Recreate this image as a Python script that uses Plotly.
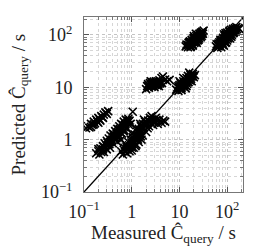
import plotly.graph_objects as go

# Cluster data (measured, predicted) in seconds
clA_x = [58,62,65,70,72,75,78,80,82,85,88,90,92,95,98,100,105,108,110,112,115,118,120,125,128,132,135,140,145,150,155,160,170,178,68,75,85,95,102,112,122,138,60,66,105,92,
         64,70,76,83,88,96,100,108,115,126,133,145,80,90,100,118,130,150,72,86]
clA_y = [60,56,68,62,75,70,80,65,88,75,95,82,70,100,88,78,105,92,115,98,85,110,125,100,118,130,108,125,135,115,140,128,135,130,72,58,62,72,95,120,92,112,66,60,85,108,
         64,66,72,84,78,92,86,100,104,112,120,126,70,88,110,95,118,125,80,102]

clB_x = [13.5,14,15,15.5,16,16.5,17,17.5,18,18.5,19,19.5,20,20.5,21,21.5,22,22.5,23,24,24,25,26,26,27,28,29,30,31,32,17,19,23,25,28,20,22,16,
         15,17,18,19,21,22,24,26,27,29,30,20,23]
clB_y = [60,65,58,70,62,75,68,60,80,72,65,85,78,70,90,82,75,95,86,100,78,92,105,85,98,110,95,115,105,120,58,62,70,80,90,95,105,72,
         64,72,66,76,74,86,88,96,104,102,110,88,80]

clC_x = [8.5,9,9.5,10,10,10.5,11,11,11.5,12,12,12.5,13,13,13.5,14,14,14.5,15,15,15.5,16,16.5,17,17.5,18,19,20,21,12,10,16,18,
         9.5,11,12.5,13.5,15,16,17,19,11,14]
clC_y = [9,10,8.5,11,9.5,12,10,8.8,11.5,13,10.5,12,14,11,9.5,13,15,11.5,14,16.5,12.5,15,13.5,17,14.5,16,18,15.5,17,15,13,19,13,
         10.5,11,11,12.5,12.5,14,15.5,16.5,9.5,10.5]

clD_x = [2.0,2.1,2.2,2.3,2.4,2.5,2.6,2.7,2.8,2.9,3.0,3.1,3.2,3.3,3.4,3.5,3.6,3.8,4.0,4.2,4.5,4.3,5.0,5.5,6.2,2.5,3.0,3.7,
         2.2,2.6,3.3,3.9,2.9]
clD_y = [9.2,10.5,11.5,9.8,12,11,10.2,12.5,11.2,10.5,12,11,13,11.8,10.8,12.2,11.5,13.5,12.5,15,16,12,14,13,13.8,13,10,10.5,
         10.8,11.8,12.4,11.8,12.8]

clE_x = [0.11,0.12,0.13,0.14,0.15,0.16,0.17,0.18,0.19,0.2,0.21,0.22,0.23,0.25,0.26,0.28,0.3,0.32,0.14,0.2,0.16,0.24]
clE_y = [1.65,1.8,1.7,2.0,1.9,2.2,2.05,2.4,2.2,2.6,2.45,2.3,2.8,2.6,3.0,3.3,3.1,3.5,1.75,2.1,1.95,2.7]

clF_x = [0.18,0.2,0.21,0.22,0.24,0.25,0.26,0.27,0.28,0.3,0.3,0.32,0.33,0.35,0.36,0.38,0.4,0.4,0.42,0.45,0.45,0.48,0.5,0.5,0.52,0.55,0.55,0.58,0.6,0.62,0.65,0.68,0.7,0.72,0.75,0.78,0.8,0.85,0.88,0.9,0.95,0.35,0.25,0.6,0.5,
         0.2,0.23,0.26,0.29,0.31,0.34,0.37,0.39,0.43,0.46,0.5,0.53,0.57,0.63,0.66,0.7,0.74,0.82,0.86,0.44,0.56,0.67]
clF_y = [0.55,0.6,0.52,0.68,0.62,0.75,0.58,0.85,0.7,0.95,0.65,0.8,1.05,0.9,1.2,1.0,1.3,0.85,1.15,1.45,1.0,1.3,1.6,1.1,1.4,1.8,1.2,1.55,2.0,1.3,1.7,2.2,1.5,1.9,2.4,1.7,2.1,2.5,1.9,2.3,2.0,0.7,0.65,1.0,0.9,
         0.66,0.58,0.72,0.78,0.88,0.82,0.95,1.12,1.25,1.2,1.35,1.5,1.4,1.6,1.9,1.75,2.0,2.3,2.2,1.1,1.6,1.45]

clG_x = [0.6,0.65,0.7,0.72,0.75,0.8,0.8,0.85,0.9,0.9,0.95,1.0,1.0,1.05,1.1,1.1,1.15,1.2,1.25,1.3,1.35,1.4,1.4,1.5,1.55,1.6,1.7,1.7,1.8,1.9,2.0,2.0,2.2,2.3,2.4,2.5,2.7,2.8,3.0,3.2,3.5,3.8,4.2,4.6,5.0,1.25,1.5,1.8,2.6,1.0,0.95,1.2,1.6,1.05,
         0.68,0.78,0.88,0.98,1.08,1.18,1.3,1.45,1.65,1.85,2.1,2.35,2.9,3.3,0.82,1.02,1.15,1.35,1.55,2.15]
clG_y = [0.6,0.52,0.7,0.58,0.8,0.65,0.55,0.9,0.72,0.6,1.0,0.8,0.62,1.1,0.9,0.7,1.25,1.0,0.8,1.4,1.1,1.6,0.9,1.3,1.8,1.5,2.0,1.2,1.7,2.2,1.9,1.4,2.3,1.8,2.6,2.1,2.4,1.9,2.2,2.6,2.0,2.4,2.1,2.3,2.2,1.6,2.0,2.4,2.8,1.3,0.75,0.75,1.0,3.4,
         0.64,0.72,0.78,0.88,0.98,1.12,1.2,1.5,1.7,1.95,2.05,2.2,2.1,2.35,0.68,0.7,0.85,1.0,1.15,1.65]

measured = clA_x + clB_x + clC_x + clD_x + clE_x + clF_x + clG_x
predicted = clA_y + clB_y + clC_y + clD_y + clE_y + clF_y + clG_y

tick_vals = [0.1, 1, 10, 100]
tick_text = ["10<sup>\u22121</sup>", "1", "10", "10<sup>2</sup>"]
x_title = "Measured \u0108<sub>query</sub> / s"
y_title = "Predicted \u0108<sub>query</sub> / s"
xr = [-1, 2.33]
yr = [-1, 2.34]

minor_vals = [m * 10.0**k for k in range(-1, 3) for m in range(2, 10)]

fig = go.Figure()
diag = [10**min(xr[0], yr[0]), 10**max(xr[1], yr[1])]
fig.add_trace(go.Scatter(x=diag, y=diag, mode="lines",
                         line=dict(color="black", width=1.3), showlegend=False))
fig.add_trace(go.Scatter(x=measured, y=predicted, mode="markers",
                         marker=dict(symbol="x-thin", size=8, color="black",
                                     line=dict(width=1.6, color="black")),
                         showlegend=False))

font = "Liberation Serif"
axis_common = dict(type="log", tickvals=tick_vals, ticktext=tick_text,
                   showgrid=True, gridcolor="#c4c4c4", griddash="dot", gridwidth=1,
                   ticks="inside", ticklen=5, tickcolor="#555",
                   showline=True, linecolor="#777", linewidth=1, mirror="allticks",
                   zeroline=False, automargin=False,
                   tickfont=dict(family=font, size=18, color="#222"),
                   minor=dict(tickvals=minor_vals, showgrid=True, gridcolor="#d6d6d6",
                              griddash="dot", gridwidth=1, ticks="inside", ticklen=3,
                              tickcolor="#777"))

fig.update_xaxes(range=xr, ticklabelstandoff=3, **axis_common)
fig.update_yaxes(range=yr, ticklabelstandoff=7, **axis_common)

title_font = dict(family=font, size=19, color="#222")
fig.add_annotation(text=x_title, xref="paper", yref="paper", x=0.5, y=0,
                   yshift=-42, xanchor="center", yanchor="middle",
                   showarrow=False, font=title_font)
fig.add_annotation(text=y_title, xref="paper", yref="paper", x=0, y=0.5,
                   xshift=-65, xanchor="center", yanchor="middle", textangle=-90,
                   showarrow=False, font=title_font, borderpad=0)

# page body adds an 8px margin; size the figure so the plot lands where the reference has it
fig.update_layout(width=266, height=239, margin=dict(l=76, r=31, t=9, b=55),
                  paper_bgcolor="white", plot_bgcolor="white")

fig.write_html("out.html")
